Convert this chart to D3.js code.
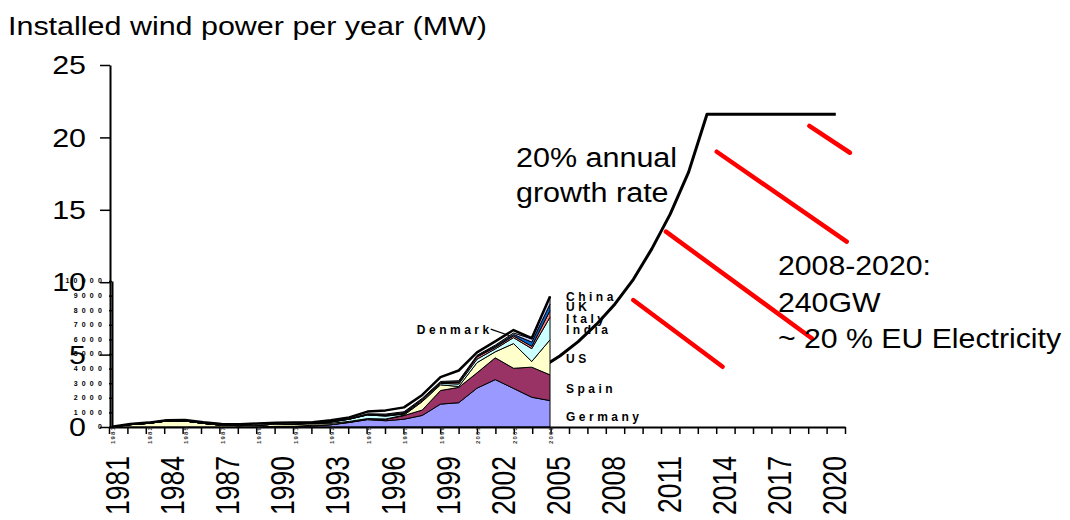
<!DOCTYPE html>
<html>
<head>
<meta charset="utf-8">
<script src="https://cdn.jsdelivr.net/npm/d3@7"></script>
<style>
  body { margin: 0; background: #fff; }
  svg { display: block; }
  text { font-family: "Liberation Sans", Arial, Helvetica, sans-serif; fill: #000; }
</style>
</head>
<body>
<svg id="chart" width="1070" height="520"></svg>
<script>
// ---- Installed wind power per year, by country (MW), 1981-2005 ----
const insetYears = [1981,1982,1983,1984,1985,1986,1987,1988,1989,1990,1991,1992,1993,
                    1994,1995,1996,1997,1998,1999,2000,2001,2002,2003,2004,2005];
const germany = [0,0,0,0,0,0,0,5,10,40,50,74,155,309,505,428,534,793,1568,1665,2659,3247,2645,2037,1808];
const spain   = [0,0,0,0,0,0,0,0,0,5,0,45,5,25,30,100,250,368,932,1050,1050,1493,1377,2061,1764];
const us      = [10,160,250,410,410,250,120,90,120,150,150,100,100,50,40,20,30,577,390,60,700,410,1690,390,2400];
const india   = [0,0,0,0,0,0,0,0,0,0,0,40,80,150,250,200,70,50,100,170,240,200,410,880,1550];
const italy   = [0,0,0,0,0,0,0,0,0,0,0,0,5,5,10,30,50,100,50,100,150,100,120,160,452];
const uk      = [0,0,0,0,0,0,0,0,0,0,20,30,50,30,50,50,50,20,20,50,60,90,100,290,446];
const china   = [0,0,0,0,0,0,0,0,0,0,0,0,10,10,20,60,60,60,60,75,50,70,100,230,498];
const denmark = [10,40,50,60,70,70,80,100,110,100,90,40,50,80,150,250,300,230,300,700,200,250,200,30,22];

const seriesNames  = ["Germany","Spain","US","India","Italy","UK","China","Denmark"];
const seriesValues = [germany, spain, us, india, italy, uk, china, denmark];
const seriesColors = ["#9999FF","#993366","#FFFFCC","#CCFFFF","#FF8080","#0066CC","#CCCCFF","#FFFFFF"];

// Right-hand country labels (top to bottom) and the level (MW) each one sits at
const legendNames  = ["China","UK","Italy","India","US","Spain","Germany"];
const legendLevels = [8650, 7960, 7140, 6350, 4400, 2350, 430];

// ---- Projection: 20% annual growth, capped (GW per year) ----
const growthYears  = [2004,2005,2006,2007,2008,2009,2010,2011,2012,2013,2014,2015,2016,2017,2018,2019,2020];
const growthValues = [4.1,4.9,5.9,7.1,8.5,10.2,12.3,14.7,17.6,21.6,21.6,21.6,21.6,21.6,21.6,21.6,21.6];

// Red hatch strokes under the plateau: [yearStart, GWStart, yearEnd, GWEnd]
const hatchLines = [
  [2009.49, 8.77, 2014.35, 4.16],
  [2011.27, 13.49, 2019.19, 6.13],
  [2014.03, 19.01, 2021.09, 12.80],
  [2019.06, 20.79, 2021.27, 18.94]
];

// Tick values / labels
const mainYTicks  = [0, 5, 10, 15, 20, 25];
const mainXTicks  = d3.range(1981, 2022);
const mainXLabels = [1981,1984,1987,1990,1993,1996,1999,2002,2005,2008,2011,2014,2017,2020];
const insetYTicks = [0,1000,2000,3000,4000,5000,6000,7000,8000,9000,10000];
const insetXLabels = [1981,1983,1985,1987,1989,1991,1993,1995,1997,1999,2001,2003,2005];

const svg = d3.select("#chart");

// Scales
const x  = d3.scaleLinear().domain([1981, 2021]).range([109, 845]);
const y  = d3.scaleLinear().domain([0, 25]).range([427, 65]);
const xi = d3.scaleLinear().domain([1981, 2005]).range([112, 550]);
const yi = d3.scaleLinear().domain([0, 10000]).range([427, 281]);

// Text helper: optional horizontal stretch and rotation
function label(parent, px, py, str, o) {
  o = o || {};
  let tr = `translate(${px},${py}) scale(${o.sx || 1},1)`;
  if (o.rotate) tr += ` rotate(${o.rotate})`;
  const t = parent.append("text")
    .attr("transform", tr)
    .attr("font-size", o.size || 12)
    .attr("text-anchor", o.anchor || "start")
    .text(str);
  if (o.dy) t.attr("dy", o.dy);
  if (o.weight) t.attr("font-weight", o.weight);
  if (o.ls) t.attr("letter-spacing", o.ls);
  if (o.fill) t.style("fill", o.fill);
  return t;
}

// ---- Growth projection line (plotted at category centres) ----
const growthLine = d3.line()
  .x((d, i) => x(growthYears[i] + 0.5))
  .y(d => y(d));
svg.append("path")
  .datum(growthValues)
  .attr("d", growthLine)
  .attr("fill", "none")
  .attr("stroke", "#000")
  .attr("stroke-width", 3)
  .attr("stroke-linejoin", "round");

// ---- Inset: plot background ----
svg.append("rect")
  .attr("x", xi(1981)).attr("y", yi(10000))
  .attr("width", xi(2005) - xi(1981))
  .attr("height", yi(0) - yi(10000))
  .attr("fill", "#fff");

// ---- Inset: stacked areas ----
const table = insetYears.map((yr, i) => {
  const row = { year: yr };
  seriesNames.forEach((n, k) => { row[n] = seriesValues[k][i]; });
  return row;
});
const stacked = d3.stack().keys(seriesNames)(table);
const area = d3.area()
  .x(d => xi(d.data.year))
  .y0(d => yi(d[0]))
  .y1(d => yi(d[1]));
svg.append("g").selectAll("path")
  .data(stacked)
  .join("path")
  .attr("d", area)
  .attr("fill", (d, i) => seriesColors[i])
  .attr("stroke", "#000")
  .attr("stroke-width", 1)
  .attr("stroke-linejoin", "round");

// total outline
const topLayer = stacked[stacked.length - 1];
svg.append("path")
  .datum(topLayer)
  .attr("d", d3.line().x(d => xi(d.data.year)).y(d => yi(d[1])))
  .attr("fill", "none")
  .attr("stroke", "#000")
  .attr("stroke-width", 2.5)
  .attr("stroke-linejoin", "round");

// ---- Red hatch strokes ----
svg.append("g").selectAll("line")
  .data(hatchLines)
  .join("line")
  .attr("x1", d => x(d[0])).attr("y1", d => y(d[1]))
  .attr("x2", d => x(d[2])).attr("y2", d => y(d[3]))
  .attr("stroke", "#FF0000")
  .attr("stroke-width", 4.5)
  .attr("stroke-linecap", "round");

// ---- Axes ----
const gy = svg.append("g").attr("transform", `translate(${x(1981) + 1},0)`)
  .call(d3.axisLeft(y).tickValues(mainYTicks).tickSize(10).tickSizeOuter(0).tickFormat(""));
const gx = svg.append("g").attr("transform", `translate(0,${y(0)})`)
  .call(d3.axisBottom(x).tickValues(mainXTicks).tickSize(7).tickSizeOuter(0).tickFormat(""));
const giy = svg.append("g").attr("transform", `translate(${xi(1981)},0)`)
  .call(d3.axisLeft(yi).tickValues(insetYTicks).tickSize(3).tickSizeOuter(0).tickFormat(""));
[gy, gx, giy].forEach(g => {
  g.select(".domain").attr("stroke", "#000").attr("stroke-width", 2);
  g.selectAll(".tick line").attr("stroke", "#000").attr("stroke-width", 1.5);
});

// Main y labels
mainYTicks.forEach(v => {
  label(svg, 86, y(v), String(v), { size: 26, sx: 1.17, anchor: "end", dy: "0.35em" });
});

// Inset y labels
insetYTicks.forEach(v => {
  label(svg, 106, yi(v), String(v), { size: 7, weight: "bold", anchor: "end", dy: "0.35em", ls: 4.2 });
});

// Main x labels (rotated)
mainXLabels.forEach(v => {
  label(svg, x(v + 0.5) - 1, 456, String(v), { size: 26.5, sx: 1.22, rotate: -90, anchor: "end", dy: "0.35em" });
});

// Inset x labels (tiny, rotated)
insetXLabels.forEach(v => {
  label(svg, xi(v) + 1, 435, String(v), { size: 6, weight: "bold", rotate: -90, anchor: "middle", dy: "0.35em", ls: 1.2, fill: "#333" });
});

// Title
label(svg, 8, 35, "Installed wind power per year (MW)", { size: 25.5, sx: 1.195 });

// Country labels beside the inset
legendNames.forEach((n, i) => {
  label(svg, xi(2005) + 16, yi(legendLevels[i]), n, { size: 12, weight: "bold", ls: 3.5 });
});

// Denmark label with leader
const dkFrom = [2001.75, 6700], dkTo = [2002.8, 6250];
svg.append("line")
  .attr("x1", xi(dkFrom[0])).attr("y1", yi(dkFrom[1]))
  .attr("x2", xi(dkTo[0])).attr("y2", yi(dkTo[1]))
  .attr("stroke", "#000").attr("stroke-width", 1.2);
label(svg, xi(dkFrom[0]) + 2, yi(dkFrom[1]) + 5, "Denmark", { size: 12, weight: "bold", ls: 3.5, anchor: "end" });

// Annotations
label(svg, 516, 167, "20% annual", { size: 28, sx: 1.09 });
label(svg, 516, 202, "growth rate", { size: 28, sx: 1.09 });
label(svg, 778, 275, "2008-2020:", { size: 28, sx: 1.08 });
label(svg, 778, 312, "240GW", { size: 28, sx: 1.08 });
label(svg, 778, 348, "~ 20 % EU Electricity", { size: 28, sx: 1.08 });
</script>
</body>
</html>
